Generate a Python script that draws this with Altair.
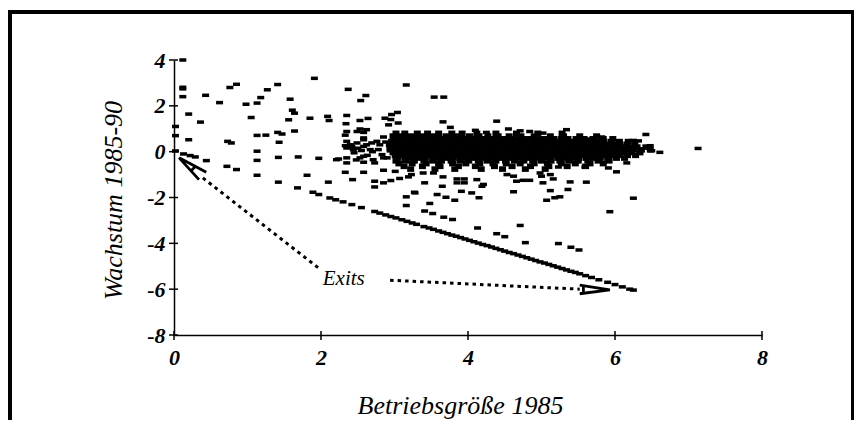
import altair as alt
import pandas as pd

FONT = "Liberation Serif"

# ---------------- data ----------------
x_tick_vals = [0, 2, 4, 6, 8]
y_tick_vals = [-8, -6, -4, -2, 0, 2, 4]
x_title = "Betriebsgröße 1985"
y_title = "Wachstum 1985-90"

# sparse points, small firms (upper left)
left_x = [0.12, 0.12, 0.12, 0.12, 0.43, 0.62, 0.76, 0.85, 0.98, 1.13, 1.18, 1.27, 1.41, 1.91,
          1.58, 1.61, 1.64, 1.56, 1.85, 2.09, 2.11, 0.20, 0.36, 1.05, 0.02, 0.02, 0.20, 0.73,
          0.78, 1.13, 1.25, 1.41, 1.47, 1.64, 1.43, 1.13, 1.42, 1.69, 1.97, 1.13, 1.13, 1.81,
          2.10, 2.24, 2.35, 0.02]
left_y = [4.00, 2.81, 2.74, 2.40, 2.46, 2.14, 2.80, 2.94, 2.07, 2.12, 2.36, 2.70, 2.93, 3.20,
          2.29, 1.81, 1.68, 1.39, 1.46, 1.54, 1.36, 1.64, 1.29, 1.49, 1.10, 0.70, 0.52, 0.45,
          0.38, 0.71, 0.72, 0.84, 0.77, 0.90, 0.41, 0.02, -0.25, -0.23, -0.29, -0.38, -1.03, -1.03,
          -1.33, -0.32, -0.49, 0.03]

# sparse points above the main cloud
upper_x = [2.37, 2.61, 2.54, 3.16, 3.54, 3.67, 2.35, 2.34, 2.53, 2.64, 2.87, 2.96, 3.04, 2.95,
           3.05, 2.92, 3.66, 3.76, 4.10, 4.39, 4.25, 4.55, 4.71, 4.84, 5.02, 5.34, 5.57, 5.66,
           5.82, 6.42, 6.25, 6.32, 6.48, 6.50, 6.61, 7.13, 2.53, 2.62]
upper_y = [2.72, 2.45, 2.23, 2.91, 2.38, 2.38, 1.58, 1.22, 1.36, 1.45, 1.46, 1.62, 1.71, 1.40,
           1.25, 1.17, 1.30, 1.06, 0.93, 1.33, 0.84, 0.99, 0.91, 0.88, 0.81, 0.96, 0.60, 0.55,
           0.64, 0.75, 0.49, 0.47, 0.26, 0.04, -0.03, 0.14, 0.99, 0.96]

# left edge of the main cloud
edge_x = [2.33, 2.35, 2.49, 2.58, 2.58, 2.85, 2.35, 2.42, 2.44, 2.35, 2.49, 2.58, 2.69, 2.76,
          2.67, 2.78, 2.58, 2.53, 2.83, 2.94, 2.33, 2.40, 2.58, 2.62, 2.35, 2.63, 2.71, 2.73,
          2.85, 2.90, 2.50, 2.70, 2.80, 2.45, 2.48, 2.55, 2.88]
edge_y = [0.72, 0.88, 0.88, 0.84, 0.60, 0.64, 0.45, 0.23, 0.09, 0.16, 0.38, 0.23, 0.38, 0.45,
          0.09, 0.09, -0.20, -0.27, -0.13, 0.12, 0.26, 0.30, 0.52, 0.30, -0.27, -0.16, -0.35, -0.49,
          -0.27, -0.27, 0.15, 0.00, 0.30, -0.05, -0.36, 0.05, 0.42]

# sparse points below the main cloud
lower_x = [2.21, 2.33, 2.43, 2.58, 2.58, 2.73, 2.73, 2.85, 2.95, 3.07, 3.19, 3.23, 2.85, 3.01,
           3.16, 3.16, 3.27, 3.41, 3.48, 3.41, 3.52, 3.67, 3.79, 3.58, 3.65, 3.70, 3.82, 3.85,
           3.95, 3.85, 3.95, 3.91, 4.05, 4.12, 4.13, 4.15, 3.39, 3.53, 3.66, 4.21, 4.19, 4.62,
           4.66, 4.75, 4.84, 5.02, 5.16, 5.12, 4.98, 5.00, 5.12, 5.07, 5.18, 5.25, 5.39, 5.36,
           5.61, 5.59, 5.91, 6.02, 6.16, 5.23, 6.25, 5.93, 4.71, 4.39, 4.50, 4.78, 5.23, 5.40,
           5.51, 4.53, 4.62, 3.28]
lower_y = [-0.35, -0.90, -1.22, -0.90, -0.46, -1.54, -1.29, -1.36, -1.26, -1.17, -1.10, -1.00,
           -0.81, -0.86, -1.97, -2.35, -1.77, -1.36, -2.26, -2.59, -2.70, -2.86, -2.96, -1.87,
           -1.51, -1.99, -2.12, -1.19, -1.19, -1.36, -1.36, -1.73, -1.80, -1.22, -3.33, -2.01,
           -0.93, -0.93, -1.10, -1.43, -1.51, -1.75, -1.29, -1.25, -1.25, -1.36, -1.19, -1.00,
           -0.93, -1.07, -1.70, -2.12, -2.01, -1.97, -1.32, -1.65, -1.33, -0.67, -0.71, -0.88,
           -0.49, -0.67, -2.03, -2.62, -3.22, -3.58, -3.71, -3.97, -4.01, -4.17, -4.29, -1.00,
           -1.07, -1.80]

# exits (firms that closed): the diagonal streak
exit_x = [0.13, 0.22, 0.29, 0.44, 0.72, 0.85, 1.42, 1.68, 1.89, 1.97, 2.12, 2.20, 2.30, 2.42,
          2.55, 2.73, 2.80, 2.88, 2.95, 3.02, 3.10, 3.17, 3.24, 3.30, 3.40, 3.47, 3.53, 3.60,
          3.66, 3.72, 3.78, 3.84, 3.90, 3.96, 4.02, 4.08, 4.14, 4.20, 4.26, 4.32, 4.38, 4.44,
          4.50, 4.56, 4.62, 4.68, 4.74, 4.80, 4.86, 4.92, 4.98, 5.04, 5.10, 5.16, 5.22, 5.28,
          5.34, 5.40, 5.46, 5.52, 5.60, 5.68, 5.78, 5.90, 6.00, 6.10, 6.20, 6.25]
exit_y = [-0.10, -0.17, -0.23, -0.39, -0.64, -0.78, -1.33, -1.58, -1.77, -1.87, -2.02, -2.10,
          -2.19, -2.31, -2.44, -2.61, -2.68, -2.76, -2.83, -2.89, -2.97, -3.04, -3.11, -3.17,
          -3.27, -3.33, -3.39, -3.46, -3.52, -3.58, -3.64, -3.69, -3.75, -3.81, -3.87, -3.93,
          -3.99, -4.05, -4.10, -4.16, -4.22, -4.28, -4.34, -4.40, -4.45, -4.51, -4.57, -4.63,
          -4.69, -4.75, -4.81, -4.86, -4.92, -4.98, -5.04, -5.10, -5.16, -5.22, -5.27, -5.33,
          -5.41, -5.49, -5.59, -5.70, -5.80, -5.90, -6.00, -6.04]

# the dense cloud, read row by row (growth level, then the sizes on that level)
cloud_row_y = [0.80, 0.68, 0.56, 0.44, 0.32, 0.20, 0.08, -0.04, -0.16, -0.28, -0.40, -0.52,
               -0.64, -0.76]
row_080 = [3.02, 3.14, 3.31, 3.45, 3.60, 3.78, 3.92, 4.12, 4.38, 4.66, 4.95, 5.28]
row_068 = [2.98, 3.07, 3.18, 3.27, 3.38, 3.49, 3.58, 3.70, 3.81, 3.90, 4.02, 4.15, 4.27, 4.41,
           4.56, 4.72, 4.90, 5.12, 5.30, 5.52, 5.75]
row_056 = [3.00, 3.09, 3.17, 3.26, 3.35, 3.43, 3.52, 3.61, 3.69, 3.78, 3.86, 3.95, 4.04, 4.12,
           4.21, 4.30, 4.38, 4.47, 4.56, 4.64, 4.73, 4.82, 4.90, 4.99, 5.08, 5.17, 5.27, 5.36,
           5.47, 5.58, 5.70, 5.84, 5.97]
row_044 = [2.96, 3.05, 3.13, 3.22, 3.31, 3.39, 3.48, 3.57, 3.65, 3.74, 3.83, 3.91, 4.00, 4.09,
           4.17, 4.26, 4.35, 4.43, 4.52, 4.61, 4.69, 4.78, 4.87, 4.95, 5.04, 5.13, 5.21, 5.30,
           5.39, 5.48, 5.57, 5.66, 5.75, 5.85, 5.95, 6.06, 6.18]
row_032 = [2.93, 3.02, 3.10, 3.19, 3.28, 3.36, 3.45, 3.54, 3.62, 3.71, 3.80, 3.88, 3.97, 4.06,
           4.14, 4.23, 4.32, 4.40, 4.49, 4.58, 4.66, 4.75, 4.84, 4.92, 5.01, 5.10, 5.18, 5.27,
           5.36, 5.44, 5.53, 5.62, 5.70, 5.79, 5.88, 5.97, 6.06, 6.16, 6.27]
row_020 = [2.97, 3.06, 3.14, 3.23, 3.32, 3.40, 3.49, 3.58, 3.66, 3.75, 3.84, 3.92, 4.01, 4.10,
           4.18, 4.27, 4.36, 4.44, 4.53, 4.62, 4.70, 4.79, 4.88, 4.96, 5.05, 5.14, 5.22, 5.31,
           5.40, 5.48, 5.57, 5.66, 5.74, 5.83, 5.92, 6.00, 6.09, 6.19, 6.30, 6.42]
row_008 = [2.94, 3.03, 3.11, 3.20, 3.29, 3.37, 3.46, 3.55, 3.63, 3.72, 3.81, 3.89, 3.98, 4.07,
           4.15, 4.24, 4.33, 4.41, 4.50, 4.59, 4.67, 4.76, 4.85, 4.93, 5.02, 5.11, 5.19, 5.28,
           5.37, 5.45, 5.54, 5.63, 5.71, 5.80, 5.89, 5.97, 6.06, 6.15, 6.25, 6.36, 6.48]
row_m004 = [2.98, 3.07, 3.15, 3.24, 3.33, 3.41, 3.50, 3.59, 3.67, 3.76, 3.85, 3.93, 4.02, 4.11,
            4.19, 4.28, 4.37, 4.45, 4.54, 4.63, 4.71, 4.80, 4.89, 4.97, 5.06, 5.15, 5.23, 5.32,
            5.41, 5.49, 5.58, 5.67, 5.75, 5.84, 5.93, 6.02, 6.12, 6.22, 6.34]
row_m016 = [3.01, 3.10, 3.18, 3.27, 3.36, 3.44, 3.53, 3.62, 3.70, 3.79, 3.88, 3.96, 4.05, 4.14,
            4.22, 4.31, 4.40, 4.48, 4.57, 4.66, 4.74, 4.83, 4.92, 5.00, 5.09, 5.18, 5.26, 5.35,
            5.44, 5.52, 5.61, 5.70, 5.78, 5.87, 5.96, 6.06, 6.17, 6.28]
row_m028 = [3.04, 3.14, 3.23, 3.33, 3.42, 3.52, 3.61, 3.71, 3.80, 3.90, 3.99, 4.09, 4.18, 4.28,
            4.37, 4.47, 4.56, 4.66, 4.75, 4.85, 4.94, 5.04, 5.13, 5.23, 5.32, 5.42, 5.51, 5.61,
            5.70, 5.80, 5.90, 6.02, 6.13]
row_m040 = [3.02, 3.15, 3.27, 3.40, 3.52, 3.64, 3.77, 3.89, 4.01, 4.14, 4.26, 4.38, 4.51, 4.63,
            4.76, 4.88, 5.00, 5.13, 5.25, 5.37, 5.50, 5.63, 5.77, 5.92]
row_m052 = [3.06, 3.24, 3.43, 3.60, 3.79, 3.97, 4.16, 4.34, 4.52, 4.71, 4.90, 5.08, 5.27, 5.46,
            5.66, 5.84]
row_m064 = [3.13, 3.38, 3.62, 3.87, 4.10, 4.36, 4.60, 4.85, 5.10, 5.35, 5.60]
row_m076 = [3.22, 3.55, 3.82, 4.18, 4.47, 4.78, 5.05]
cloud_rows = [row_080, row_068, row_056, row_044, row_032, row_020, row_008, row_m004,
              row_m016, row_m028, row_m040, row_m052, row_m064, row_m076]

# annotation: "Exits" label and its two dotted arrows
label_text = ["Exits"]
label_x = [2.31]
label_y = [-5.80]
arrow_id = [1, 1, 2, 2]
arrow_x = [1.96, 0.39, 2.94, 5.52]
arrow_y = [-5.06, -1.14, -5.61, -6.00]
head_id = [1, 1, 1, 2, 2, 2, 3, 3, 4, 4]
head_x = [0.44, 0.07, 0.34, 5.52, 5.93, 5.52, 0.29, 0.23, 5.57, 5.57]
head_y = [-0.90, -0.27, -1.22, -5.82, -6.03, -6.20, -0.65, -0.84, -5.84, -6.18]

# ---------------- tables ----------------
pts = []
for xs_, ys_ in [(left_x, left_y), (upper_x, upper_y), (edge_x, edge_y), (lower_x, lower_y),
                 (exit_x, exit_y)]:
    pts += list(zip(xs_, ys_))
pts_df = pd.DataFrame(pts, columns=["x", "y"])

cloud = []
for yv, row in zip(cloud_row_y, cloud_rows):
    cloud += [(xv, yv) for xv in row]
cloud_df = pd.DataFrame(cloud, columns=["x", "y"])

arrow_df = pd.DataFrame({"x": arrow_x, "y": arrow_y, "id": arrow_id,
                         "o": list(range(len(arrow_x)))})
head_df = pd.DataFrame({"x": head_x, "y": head_y, "id": head_id,
                        "o": list(range(len(head_x)))})
label_df = pd.DataFrame({"x": label_x, "y": label_y, "t": label_text})
xtick_df = pd.DataFrame({"x": x_tick_vals})
ytick_df = pd.DataFrame({"y": y_tick_vals})

# ---------------- chart ----------------
W, H = 588, 275

x_axis = alt.Axis(values=x_tick_vals, labelExpr="'' + datum.value", ticks=False, tickSize=0,
                  grid=False, domainColor="black", domainWidth=1.5, labelFont=FONT,
                  labelFontSize=22, labelFontStyle="italic", labelFontWeight="bold",
                  labelColor="black", labelPadding=12, labelFlush=False, labelOverlap=False,
                  title=x_title, titleFont=FONT, titleFontSize=26, titleFontStyle="italic",
                  titleFontWeight="normal", titleColor="black", titleX=286, titleY=78,
                  titleAlign="center", titleBaseline="alphabetic")
y_axis = alt.Axis(values=y_tick_vals, labelExpr="'' + datum.value", ticks=False, tickSize=0,
                  grid=False, domainColor="black", domainWidth=1.5, labelFont=FONT,
                  labelFontSize=22, labelFontStyle="italic", labelFontWeight="bold",
                  labelColor="black", labelPadding=9, labelFlush=False, labelOverlap=False,
                  title=y_title, titleFont=FONT, titleFontSize=26, titleFontStyle="italic",
                  titleFontWeight="normal", titleColor="black", titleX=-61, titleY=140,
                  titleAngle=270, titleAlign="center", titleBaseline="middle")

xs = alt.Scale(domain=[0, 8], nice=False, zero=False)
ys = alt.Scale(domain=[-8, 4], nice=False, zero=False)
X = alt.X("x:Q", scale=xs, axis=x_axis)
Y = alt.Y("y:Q", scale=ys, axis=y_axis)

DASH = "M-1,-0.5H1V0.5H-1Z"
DASH_CLOUD = "M-1,-0.8H1V0.8H-1Z"

frame = alt.Chart(pd.DataFrame({"k": [0]})).mark_rect(
    fillOpacity=0, stroke="black", strokeWidth=4
).encode(x=alt.value(-164), x2=alt.value(679), y=alt.value(-48), y2=alt.value(440))

yticks = alt.Chart(ytick_df).mark_rule(color="black", strokeWidth=1.5).encode(
    y=Y, x=alt.value(-5), x2=alt.value(4))
xticks = alt.Chart(xtick_df).mark_rule(color="black", strokeWidth=1.5).encode(
    x=X, y=alt.value(H - 4), y2=alt.value(H + 5))

cloud_layer = alt.Chart(cloud_df).mark_point(
    shape=DASH_CLOUD, size=49, filled=True, color="black", fillOpacity=1, strokeWidth=0
).encode(x=X, y=Y)

points = alt.Chart(pts_df).mark_point(
    shape=DASH, size=49, filled=True, color="black", fillOpacity=1, strokeWidth=0
).encode(x=X, y=Y)

arrows = alt.Chart(arrow_df).mark_line(
    color="black", strokeWidth=3, strokeDash=[3.5, 4]
).encode(x=X, y=Y, detail="id:N", order="o:Q")

heads = alt.Chart(head_df).mark_line(color="black", strokeWidth=2.8).encode(
    x=X, y=Y, detail="id:N", order="o:Q")

label = alt.Chart(label_df).mark_text(
    font=FONT, fontSize=21, fontStyle="italic", align="center", baseline="alphabetic",
    color="black"
).encode(x=X, y=Y, text="t:N")

chart = alt.layer(frame, yticks, xticks, cloud_layer, points, arrows, heads, label).properties(
    width=W, height=H,
    autosize=alt.AutoSizeParams(type="none"),
    padding={"left": 166, "top": 52, "right": 92, "bottom": 85},
    background="white",
).configure_view(stroke=None)

chart.save("out.html", embed_options={"renderer": "svg", "actions": False})
